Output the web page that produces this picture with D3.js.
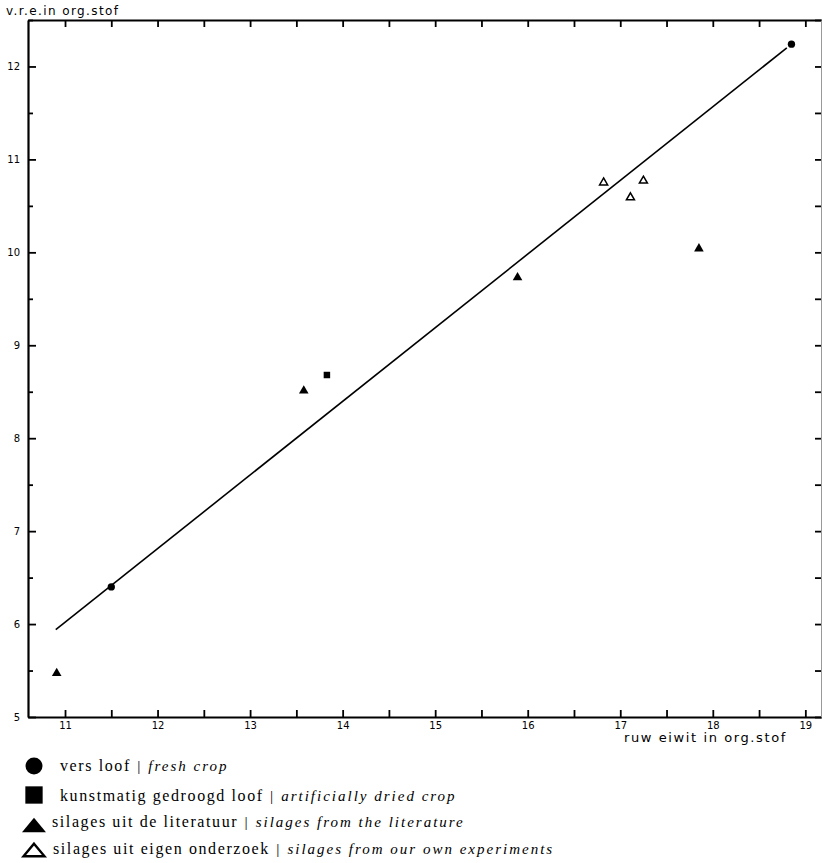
<!DOCTYPE html>
<html>
<head>
<meta charset="utf-8">
<script src="https://cdn.jsdelivr.net/npm/d3@7"></script>
<style>
  body { margin: 0; background: #fff; }
  .tick text { font-family: "DejaVu Sans", sans-serif; font-size: 10px; fill: #000; }
</style>
</head>
<body>
<div id="chart"></div>
<script>
// data: [ruw eiwit, v.r.e.]
const freshCrop  = [[11.5, 6.4], [18.85, 12.24]];
const driedCrop  = [[13.83, 8.68]];
const silagesLit = [[10.91, 5.47], [13.58, 8.51], [15.89, 9.73], [17.85, 10.04]];
const silagesOwn = [[16.82, 10.75], [17.11, 10.59], [17.25, 10.77]];
const regression = [[10.9, 5.94], [18.8, 12.2]];

const xTicks = [11, 12, 13, 14, 15, 16, 17, 18, 19];
const yTicks = [5, 6, 7, 8, 9, 10, 11, 12];

const legendDutch = ["vers loof", "kunstmatig gedroogd loof", "silages uit de literatuur", "silages uit eigen onderzoek"];
const legendEnglish = ["fresh crop", "artificially dried crop", "silages from the literature", "silages from our own experiments"];

const width = 822;
const height = 863;
const svg = d3.select("#chart")
  .append("svg")
  .attr("width", width)
  .attr("height", height);

// scales
const x = d3.scaleLinear().domain([10.6, 19.18]).range([28, 822]);
const y = d3.scaleLinear().domain([5, 12.5]).range([717, 20]);

const halfX = d3.range(11, 19.01, 0.5);
const halfY = d3.range(5, 12.51, 0.5);

// bottom axis
const axBottom = svg.append("g")
  .attr("transform", "translate(0,717)")
  .call(d3.axisBottom(x).tickValues(halfX).tickSizeOuter(0).tickSizeInner(-7).tickPadding(5)
    .tickFormat(d => xTicks.includes(d) ? d : ""));
axBottom.select(".domain").attr("stroke-width", 2.2);
axBottom.selectAll(".tick line").attr("stroke-width", 1.8);

// top axis
const axTop = svg.append("g")
  .attr("transform", "translate(0,20)")
  .call(d3.axisTop(x).tickValues(halfX).tickSizeOuter(0).tickSizeInner(-7).tickFormat(""));
axTop.select(".domain").attr("stroke-width", 2);
axTop.selectAll(".tick line").attr("stroke-width", 1.8);

// left axis
const axLeft = svg.append("g")
  .attr("transform", "translate(28,0)")
  .call(d3.axisLeft(y).tickValues(halfY).tickSizeOuter(0).tickSizeInner(-7).tickPadding(8)
    .tickFormat(d => yTicks.includes(d) ? d : ""));
axLeft.select(".domain").attr("stroke-width", 2.2);
axLeft.selectAll(".tick line").attr("stroke-width", 1.8)
  .attr("x2", d => yTicks.includes(d) ? 8 : 5);

// right axis (ticks only, edge of the page)
const axRight = svg.append("g")
  .attr("transform", "translate(821,0)")
  .call(d3.axisRight(y).tickValues(halfY).tickSizeOuter(0).tickSizeInner(-6).tickFormat(""));
axRight.select(".domain").attr("stroke", "#999").attr("stroke-width", 1);
axRight.selectAll(".tick line").attr("stroke-width", 1.8);

// axis titles
svg.append("text")
  .attr("x", 6)
  .attr("y", 15)
  .style("font-family", "DejaVu Sans, sans-serif")
  .style("font-size", "12px")
  .style("letter-spacing", "1.4px")
  .text("v.r.e.in org.stof");
svg.append("text")
  .attr("x", 624)
  .attr("y", 742)
  .style("font-family", "DejaVu Sans, sans-serif")
  .style("font-size", "13px")
  .style("letter-spacing", "1.6px")
  .text("ruw eiwit in org.stof");

// regression line
const line = d3.line().x(d => x(d[0])).y(d => y(d[1]));
svg.append("path")
  .datum(regression)
  .attr("d", line)
  .attr("fill", "none")
  .attr("stroke", "#000")
  .attr("stroke-width", 1.6);

// markers
const sym = (type, size) => d3.symbol().type(type).size(size)();

// flattened triangle used in the legend (wider than tall)
const flatTriangle = {
  draw(context, size) {
    const w = Math.sqrt(size) * 1.3, h = w * 0.6;
    context.moveTo(0, -h / 2);
    context.lineTo(w / 2, h / 2);
    context.lineTo(-w / 2, h / 2);
    context.closePath();
  }
};

svg.selectAll(".fresh")
  .data(freshCrop)
  .enter().append("path")
  .attr("transform", d => `translate(${x(d[0])},${y(d[1])})`)
  .attr("d", sym(d3.symbolCircle, 42))
  .attr("fill", "#000");

svg.selectAll(".dried")
  .data(driedCrop)
  .enter().append("path")
  .attr("transform", d => `translate(${x(d[0])},${y(d[1])})`)
  .attr("d", sym(d3.symbolSquare, 42))
  .attr("fill", "#000");

svg.selectAll(".lit")
  .data(silagesLit)
  .enter().append("path")
  .attr("transform", d => `translate(${x(d[0])},${y(d[1])})`)
  .attr("d", sym(d3.symbolTriangle, 40))
  .attr("fill", "#000");

svg.selectAll(".own")
  .data(silagesOwn)
  .enter().append("path")
  .attr("transform", d => `translate(${x(d[0])},${y(d[1])})`)
  .attr("d", sym(d3.symbolTriangle, 28))
  .attr("fill", "#fff")
  .attr("stroke", "#000")
  .attr("stroke-width", 1.5);

// legend
const legendSymbols = [
  { d: sym(d3.symbolCircle, 227), fill: "#000", y: 766 },
  { d: sym(d3.symbolSquare, 300), fill: "#000", y: 795 },
  { d: sym(flatTriangle, 340), fill: "#000", y: 825 },
  { d: sym(flatTriangle, 260), fill: "#fff", y: 850 }
];
const legendTextX = [60, 60, 52, 53];
const legendTextY = [771, 801, 827, 854];

const legend = svg.append("g");
legendDutch.forEach((label, i) => {
  legend.append("path")
    .attr("transform", `translate(34,${legendSymbols[i].y})`)
    .attr("d", legendSymbols[i].d)
    .attr("fill", legendSymbols[i].fill)
    .attr("stroke", "#000")
    .attr("stroke-width", i === 3 ? 2.4 : 0);

  const t = legend.append("text")
    .attr("x", legendTextX[i])
    .attr("y", legendTextY[i])
    .attr("fill", "#000")
    .style("font-family", "Liberation Serif, serif")
    .style("font-size", "16px")
    .style("letter-spacing", "1.6px");
  t.append("tspan").attr("fill", "#000").text(label + " ");
  t.append("tspan")
    .attr("fill", "#000")
    .style("font-style", "italic")
    .style("font-size", "15px")
    .style("letter-spacing", "2px")
    .text("| " + legendEnglish[i]);
});
</script>
</body>
</html>
